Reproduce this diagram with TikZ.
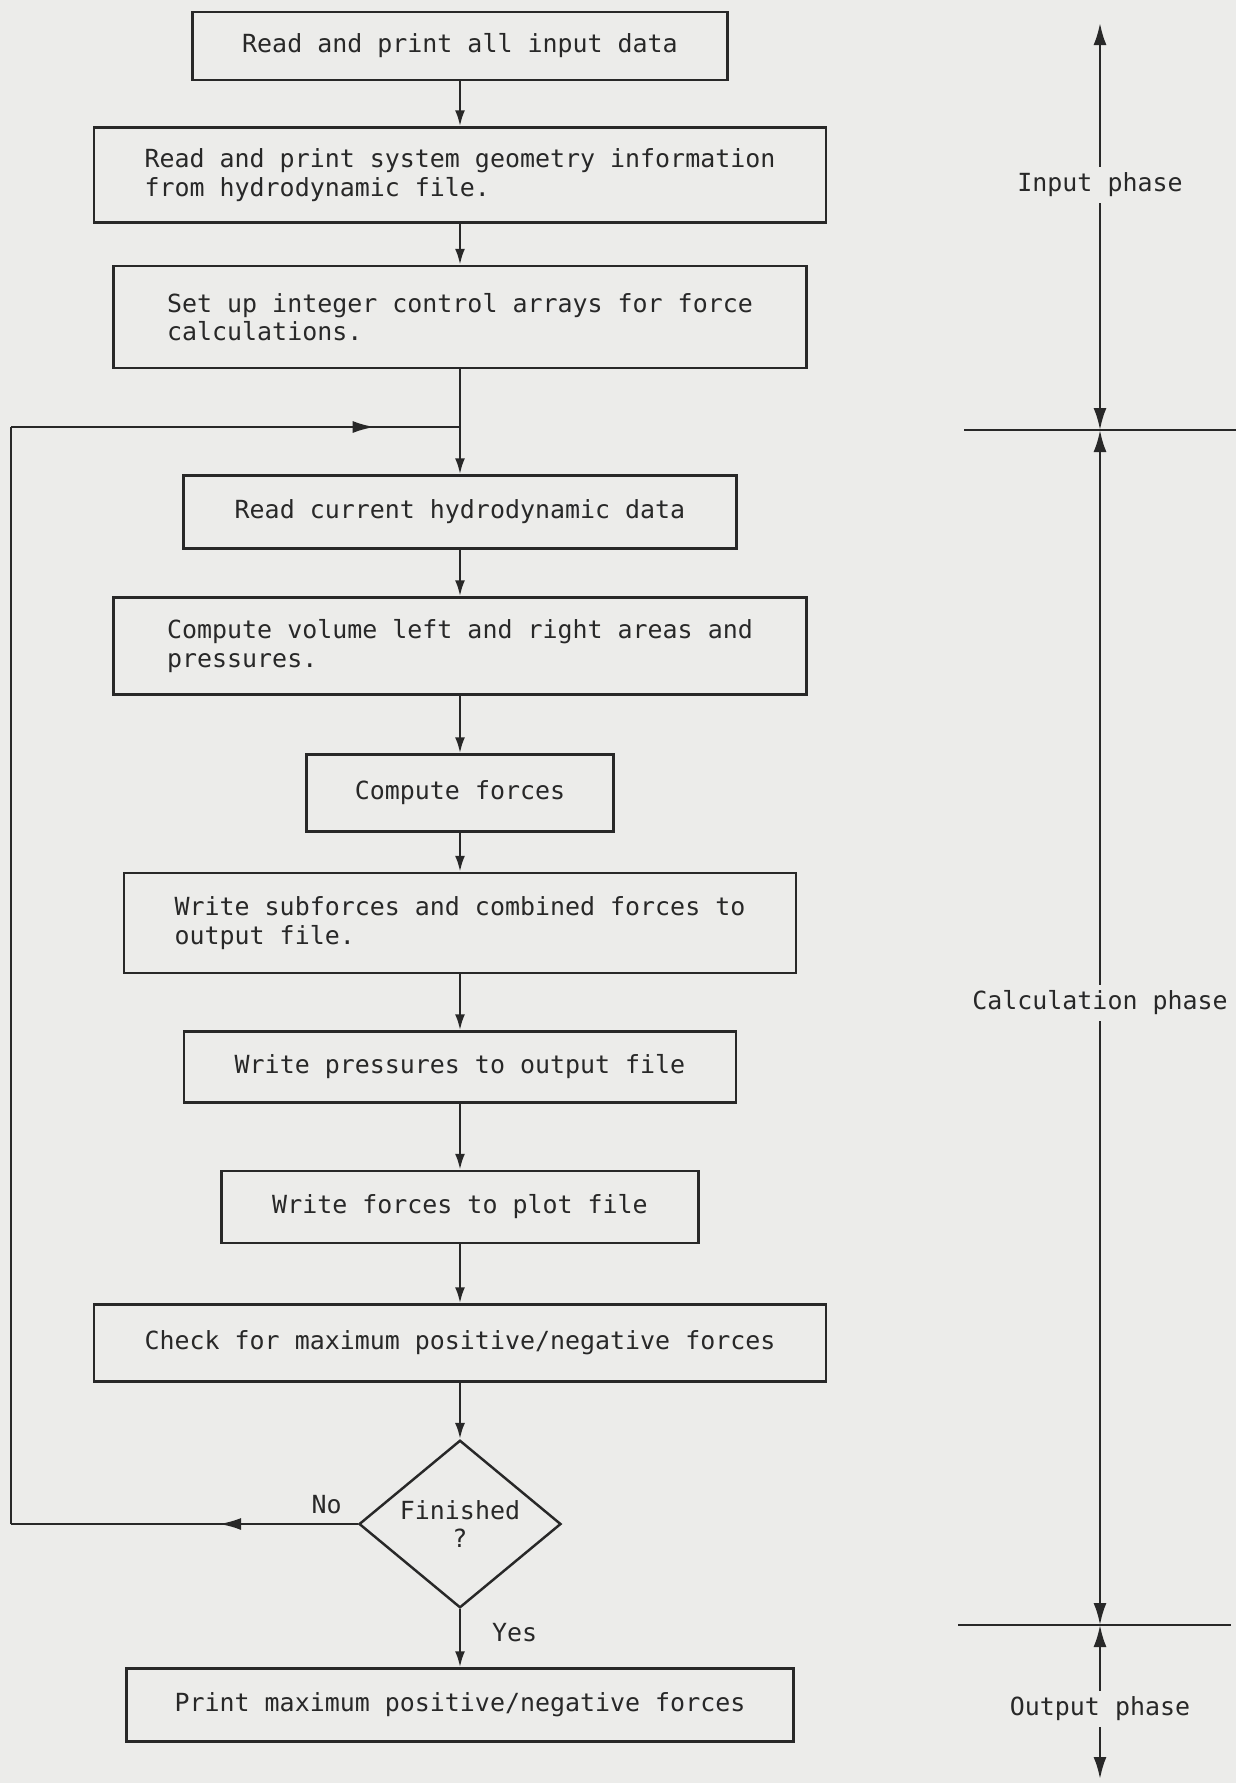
\documentclass[tikz,border=0pt]{standalone}
\usepackage{fontspec}
\newfontfamily\lpfont{DejaVu Sans Mono}
\usetikzlibrary{arrows.meta,shapes.geometric,decorations.markings}

\definecolor{paper}{RGB}{236,236,234}
\definecolor{ink}{RGB}{40,40,40}

\tikzset{
  lptext/.style={font=\lpfont\fontsize{14.2}{16.2}\selectfont, text=ink},
  stepbox/.style={lptext, draw=ink, line width=1.4pt, inner sep=2pt, align=left},
  testbox/.style={lptext, draw=ink, line width=1.4pt, diamond, inner sep=0pt, align=center},
  link/.style={draw=ink, line width=1.4pt},
  flow/.style={link, -{Latex[length=3.2mm,width=2mm]}},
  phase/.style={link, -{Latex[length=4.4mm,width=2.6mm]}},
  midarrow/.style={postaction={decorate},
    decoration={markings, mark=at position #1 with {\arrow{Latex[length=4.4mm,width=2.4mm]}}}}
}

\begin{document}
\begin{tikzpicture}[x=0.02cm, y=-0.02cm]
  % page
  \fill[paper] (0,0) rectangle (1236,1783);
  \useasboundingbox (0,0) rectangle (1236,1783);

  % flow chart steps
  \node[stepbox, minimum width=10.7cm,  minimum height=1.35cm] (rdin)  at (460,46)   {Read and print all input data};
  \node[stepbox, minimum width=14.64cm, minimum height=1.9cm]  (rdgeo) at (460,175)  {Read and print system geometry information\\from hydrodynamic file.};
  \node[stepbox, minimum width=13.86cm, minimum height=2.04cm] (setup) at (460,317)  {Set up integer control arrays for force\\calculations.};
  \node[stepbox, minimum width=11.06cm, minimum height=1.46cm] (rdhyd) at (460,512)  {Read current hydrodynamic data};
  \node[stepbox, minimum width=13.86cm, minimum height=1.94cm] (cvol)  at (460,646)  {Compute volume left and right areas and\\pressures.};
  \node[stepbox, minimum width=6.14cm,  minimum height=1.54cm] (cfor)  at (460,793)  {Compute forces};
  \node[stepbox, minimum width=13.44cm, minimum height=2.0cm]  (wsub)  at (460,923)  {Write subforces and combined forces to\\output file.};
  \node[stepbox, minimum width=11.04cm, minimum height=1.42cm] (wpre)  at (460,1067) {Write pressures to output file};
  \node[stepbox, minimum width=9.54cm,  minimum height=1.44cm] (wplt)  at (460,1207) {Write forces to plot file};
  \node[stepbox, minimum width=14.64cm, minimum height=1.54cm] (chk)   at (460,1343) {Check for maximum positive/negative forces};
  \node[testbox, minimum width=4.04cm,  minimum height=3.04cm] (fin)   at (460,1524) {Finished\\?};
  \node[stepbox, minimum width=13.34cm, minimum height=1.46cm] (prt)   at (460,1705) {Print maximum positive/negative forces};

  % connectors
  \draw[flow] (rdin) -- (rdgeo);
  \draw[flow] (rdgeo) -- (setup);
  \draw[flow] (setup) -- (rdhyd);
  \draw[flow] (rdhyd) -- (cvol);
  \draw[flow] (cvol) -- (cfor);
  \draw[flow] (cfor) -- (wsub);
  \draw[flow] (wsub) -- (wpre);
  \draw[flow] (wpre) -- (wplt);
  \draw[flow] (wplt) -- (chk);
  \draw[flow] (chk) -- (fin);
  \draw[flow] (fin) -- node[pos=0.4, anchor=west, lptext, xshift=0.5cm] {Yes} (prt);

  % loop back
  \coordinate (lbot) at (11,1524);
  \coordinate (ltop) at (11,427);
  \coordinate (join) at (460,427);
  \draw[link, midarrow=0.4] (fin.west) -- node[pos=0.09, above, lptext, yshift=2pt] {No} (lbot);
  \draw[link] (lbot) -- (ltop);
  \draw[link, midarrow=0.81] (ltop) -- (join);

  % phases
  \coordinate (ptop) at (1100,23);
  \coordinate (pdiv1) at (1100,430);
  \coordinate (pdiv2) at (1100,1625);
  \coordinate (pbot) at (1100,1779);
  \node[lptext] (pin)   at (1100,185)  {Input phase};
  \node[lptext] (pcalc) at (1100,1003) {Calculation phase};
  \node[lptext] (pout)  at (1100,1709) {Output phase};
  \draw[link] (964,430) -- (1236,430);
  \draw[link] (958,1625) -- (1231,1625);
  \draw[phase] (pin) -- (ptop);
  \draw[phase] (pin) -- (pdiv1);
  \draw[phase] (pcalc) -- (pdiv1);
  \draw[phase] (pcalc) -- (pdiv2);
  \draw[phase] (pout) -- (pdiv2);
  \draw[phase] (pout) -- (pbot);
\end{tikzpicture}
\end{document}
